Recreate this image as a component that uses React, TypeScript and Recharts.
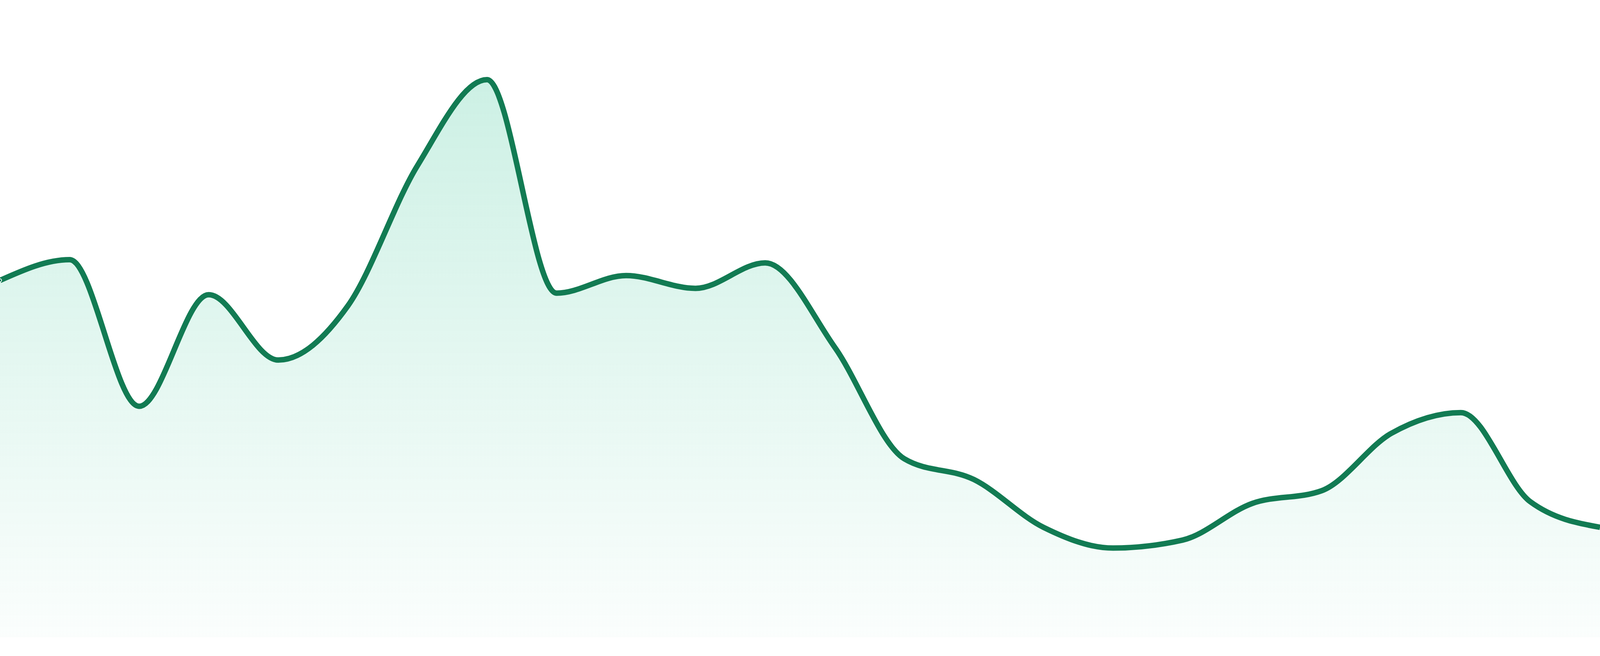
import { AreaChart, Area, XAxis, YAxis, ResponsiveContainer } from "recharts";

// 24 hourly readings, left edge to right edge
const hours = [
	"00:00", "01:00", "02:00", "03:00", "04:00", "05:00",
	"06:00", "07:00", "08:00", "09:00", "10:00", "11:00",
	"12:00", "13:00", "14:00", "15:00", "16:00", "17:00",
	"18:00", "19:00", "20:00", "21:00", "22:00", "23:00",
];

const visits = [
	224, 237, 145, 215, 174, 208,
	296, 350, 216, 227, 219, 235,
	182, 112, 99, 69, 56, 61,
	84, 92, 128, 141, 85, 69,
];

const data = hours.map((hour, i) => ({ hour, visits: visits[i] }));

const Chart = () => {
	return (
		<div
			style={{
				position: "fixed",
				left: 0,
				top: 0,
				width: "100vw",
				height: "97.14vh",
			}}
		>
			<ResponsiveContainer width="100%" height="100%">
				<AreaChart
					data={data}
					margin={{ top: 0, right: 0, bottom: 0, left: 0 }}
				>
					<defs>
						<linearGradient id="visitsFill" x1="0" y1="0" x2="0" y2="1">
							<stop offset="0%" stopColor="#10b981" stopOpacity={0.35} />
							<stop offset="100%" stopColor="#10b981" stopOpacity={0.03} />
						</linearGradient>
					</defs>
					<XAxis dataKey="hour" hide />
					<YAxis hide domain={[0, 400]} />
					<Area
						type="monotone"
						dataKey="visits"
						stroke="#127b53"
						strokeWidth={14}
						fill="url(#visitsFill)"
						isAnimationActive={false}
					/>
				</AreaChart>
			</ResponsiveContainer>
		</div>
	);
};

export default Chart;
